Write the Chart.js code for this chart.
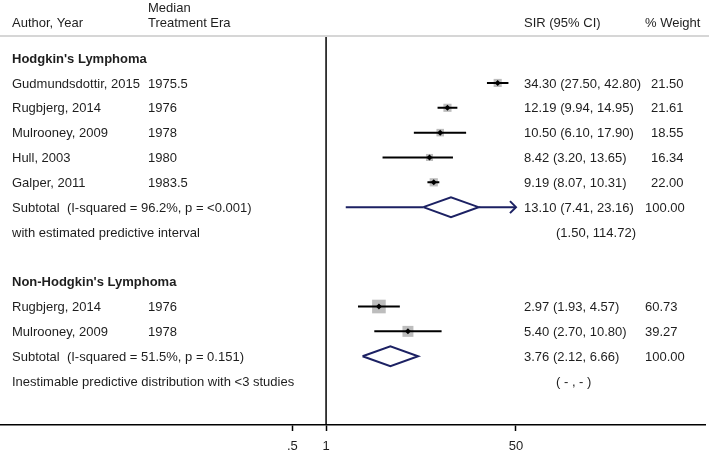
<!DOCTYPE html>
<html>
<head>
<meta charset="utf-8">
<script src="https://cdn.jsdelivr.net/npm/chart.js@4.4.1/dist/chart.umd.min.js"></script>
<style>
    html, body { margin: 0; padding: 0; background: #fff; }
    #wrap { width: 709px; height: 452px; position: relative; }
</style>
</head>
<body>
<div id="wrap"><canvas id="forest"></canvas></div>
<script>
// Hodgkin's Lymphoma
var hlStudies = ['Gudmundsdottir, 2015', 'Rugbjerg, 2014', 'Mulrooney, 2009', 'Hull, 2003', 'Galper, 2011'];
var hlEra = ['1975.5', '1976', '1978', '1980', '1983.5'];
var hlSir = [34.30, 12.19, 10.50, 8.42, 9.19];
var hlLow = [27.50, 9.94, 6.10, 3.20, 8.07];
var hlHigh = [42.80, 14.95, 17.90, 13.65, 10.31];
var hlWeight = [21.50, 21.61, 18.55, 16.34, 22.00];
var hlSubtotal = [13.10, 7.41, 23.16];
var hlPredictive = [1.50, 114.72];

// Non-Hodgkin's Lymphoma
var nhlStudies = ['Rugbjerg, 2014', 'Mulrooney, 2009'];
var nhlEra = ['1976', '1978'];
var nhlSir = [2.97, 5.40];
var nhlLow = [1.93, 2.70];
var nhlHigh = [4.57, 10.80];
var nhlWeight = [60.73, 39.27];
var nhlSubtotal = [3.76, 2.12, 6.66];

var xTicks = [0.5, 1, 50];
var xTickLabels = ['.5', '1', '50'];
var xClip = 50; // Stata cuts the predictive interval here

var FONT = "'Liberation Sans', Arial, sans-serif";
var FS = 13;
var NAVY = '#1c2163';
var TEXT = '#1e1e1e';

// rows: index = position on the y scale
var rows = [];
function addGroup(title, studies, era, sir, lo, hi, wt, sub, subText, pred, predText) {
    rows.push({ kind: 'head', label: title });
    for (var i = 0; i < studies.length; i++) {
        rows.push({ kind: 'study', label: studies[i], era: era[i], est: sir[i], lo: lo[i], hi: hi[i], w: wt[i] });
    }
    rows.push({ kind: 'sub', label: subText, est: sub[0], lo: sub[1], hi: sub[2], w: 100, pred: pred });
    rows.push({ kind: 'pred', label: predText, pred: pred });
}
addGroup("Hodgkin's Lymphoma", hlStudies, hlEra, hlSir, hlLow, hlHigh, hlWeight, hlSubtotal,
    'Subtotal  (I-squared = 96.2%, p = <0.001)', hlPredictive, 'with estimated predictive interval');
rows.push({ kind: 'blank', label: '' });
addGroup("Non-Hodgkin's Lymphoma", nhlStudies, nhlEra, nhlSir, nhlLow, nhlHigh, nhlWeight, nhlSubtotal,
    'Subtotal  (I-squared = 51.5%, p = 0.151)', null, 'Inestimable predictive distribution with <3 studies');

var whiskers = [], boxes = [], boxSize = [], dots = [], diamonds = [], predLines = [];
var GAP = { x: NaN, y: NaN };
var DH = 0.4; // diamond half height, in rows
rows.forEach(function (r, i) {
    if (r.kind === 'study') {
        whiskers.push({ x: r.lo, y: i }, { x: r.hi, y: i }, GAP);
        boxes.push({ x: r.est, y: i });
        // box area proportional to weight
        boxSize.push(1.75 * Math.sqrt(r.w) / Math.SQRT2);
        dots.push({ x: r.est, y: i });
    } else if (r.kind === 'sub') {
        diamonds.push({ x: r.lo, y: i }, { x: r.est, y: i - DH }, { x: r.hi, y: i },
            { x: r.est, y: i + DH }, { x: r.lo, y: i }, GAP);
        if (r.pred) {
            predLines.push({ x: r.pred[0], y: i }, { x: r.lo, y: i }, GAP);
            predLines.push({ x: r.hi, y: i }, { x: Math.min(r.pred[1], xClip), y: i }, GAP);
        }
    }
});

var fmt = function (v) { return v.toFixed(2); };

var tablePlugin = {
    id: 'forestTable',
    beforeDraw: function (chart) {
        var ctx = chart.ctx;
        ctx.save();
        ctx.strokeStyle = '#c9c9c9';
        ctx.lineWidth = 1.5;
        ctx.beginPath();
        ctx.moveTo(0, 36);
        ctx.lineTo(709, 36);
        ctx.stroke();
        ctx.restore();
    },
    afterDatasetsDraw: function (chart) {
        var ctx = chart.ctx, xs = chart.scales.x, ys = chart.scales.y, area = chart.chartArea;
        ctx.save();
        // null line at 1
        var x1 = xs.getPixelForValue(1);
        ctx.strokeStyle = '#000';
        ctx.lineWidth = 1.5;
        ctx.beginPath();
        ctx.moveTo(x1, area.top);
        ctx.lineTo(x1, area.bottom);
        ctx.stroke();

        // column headers
        ctx.fillStyle = TEXT;
        ctx.textBaseline = 'middle';
        ctx.font = FS + 'px ' + FONT;
        ctx.fillText('Author, Year', 12, 23);
        ctx.fillText('Median', 148, 8);
        ctx.fillText('Treatment Era', 148, 23);
        ctx.fillText('SIR (95% CI)', 524, 23);
        ctx.fillText('% Weight', 645, 23);

        rows.forEach(function (r, i) {
            var y = ys.getPixelForValue(i) + 1;
            ctx.font = (r.kind === 'head' ? 'bold ' : '') + FS + 'px ' + FONT;
            if (r.label) ctx.fillText(r.label, 12, y);
            ctx.font = FS + 'px ' + FONT;
            if (r.era) ctx.fillText(r.era, 148, y);
            if (r.kind === 'study' || r.kind === 'sub') {
                ctx.fillText(fmt(r.est) + ' (' + fmt(r.lo) + ', ' + fmt(r.hi) + ')', 524, y);
                ctx.fillText(fmt(r.w), r.kind === 'sub' || i > 9 ? 645 : 651, y);
            }
            if (r.kind === 'pred') {
                var t = r.pred ? '(' + fmt(r.pred[0]) + ', ' + fmt(r.pred[1]) + ')' : '( - , - )';
                ctx.fillText(t, 556, y);
            }
            // arrow where the predictive interval leaves the plot
            if (r.kind === 'sub' && r.pred && r.pred[1] > xClip) {
                var tip = xs.getPixelForValue(xClip);
                var ya = y - 1;
                ctx.strokeStyle = NAVY;
                ctx.lineWidth = 2;
                ctx.beginPath();
                ctx.moveTo(tip - 6, ya - 6);
                ctx.lineTo(tip, ya);
                ctx.lineTo(tip - 6, ya + 6);
                ctx.stroke();
            }
        });
        ctx.restore();
    }
};

new Chart(document.getElementById('forest'), {
    type: 'scatter',
    data: {
        datasets: [{
            type: 'scatter',
            data: dots,
            pointStyle: 'rectRot',
            pointRadius: 3,
            backgroundColor: '#000',
            borderColor: '#000',
            borderWidth: 0,
            order: 1
        }, {
            type: 'line',
            data: whiskers,
            borderColor: '#000',
            borderWidth: 2,
            pointRadius: 0,
            spanGaps: false,
            fill: false,
            order: 2
        }, {
            type: 'scatter',
            data: boxes,
            pointStyle: 'rect',
            pointRadius: boxSize,
            backgroundColor: '#bdbdbd',
            borderColor: '#bdbdbd',
            borderWidth: 0,
            order: 3
        }, {
            type: 'line',
            data: diamonds,
            borderColor: NAVY,
            borderWidth: 2,
            pointRadius: 0,
            spanGaps: false,
            fill: false,
            order: 1
        }, {
            type: 'line',
            data: predLines,
            borderColor: NAVY,
            borderWidth: 2,
            pointRadius: 0,
            spanGaps: false,
            fill: false,
            order: 1
        }]
    },
    options: {
        responsive: true,
        maintainAspectRatio: false,
        animation: false,
        devicePixelRatio: 1,
        layout: { autoPadding: false, padding: { left: 0, right: 4, top: 37, bottom: 0 } },
        scales: {
            x: {
                type: 'logarithmic',
                min: 0.00121,
                max: 2455,
                afterBuildTicks: function (scale) {
                    scale.ticks = xTicks.map(function (v) { return { value: v }; });
                },
                afterFit: function (scale) {
                    scale.height = 27;
                },
                ticks: {
                    autoSkip: false,
                    maxRotation: 0,
                    padding: 8,
                    color: TEXT,
                    font: { family: FONT, size: FS },
                    callback: function (value, index) { return xTickLabels[index]; }
                },
                grid: {
                    display: true,
                    drawOnChartArea: false,
                    drawTicks: true,
                    tickLength: 6,
                    tickColor: '#000',
                    tickWidth: 1.5
                },
                border: { display: true, color: '#000', width: 1.5 }
            },
            y: {
                type: 'linear',
                display: false,
                reverse: true,
                min: -0.85,
                max: 14.77
            }
        },
        plugins: {
            legend: { display: false },
            tooltip: { enabled: false }
        }
    },
    plugins: [tablePlugin]
});
</script>
</body>
</html>
